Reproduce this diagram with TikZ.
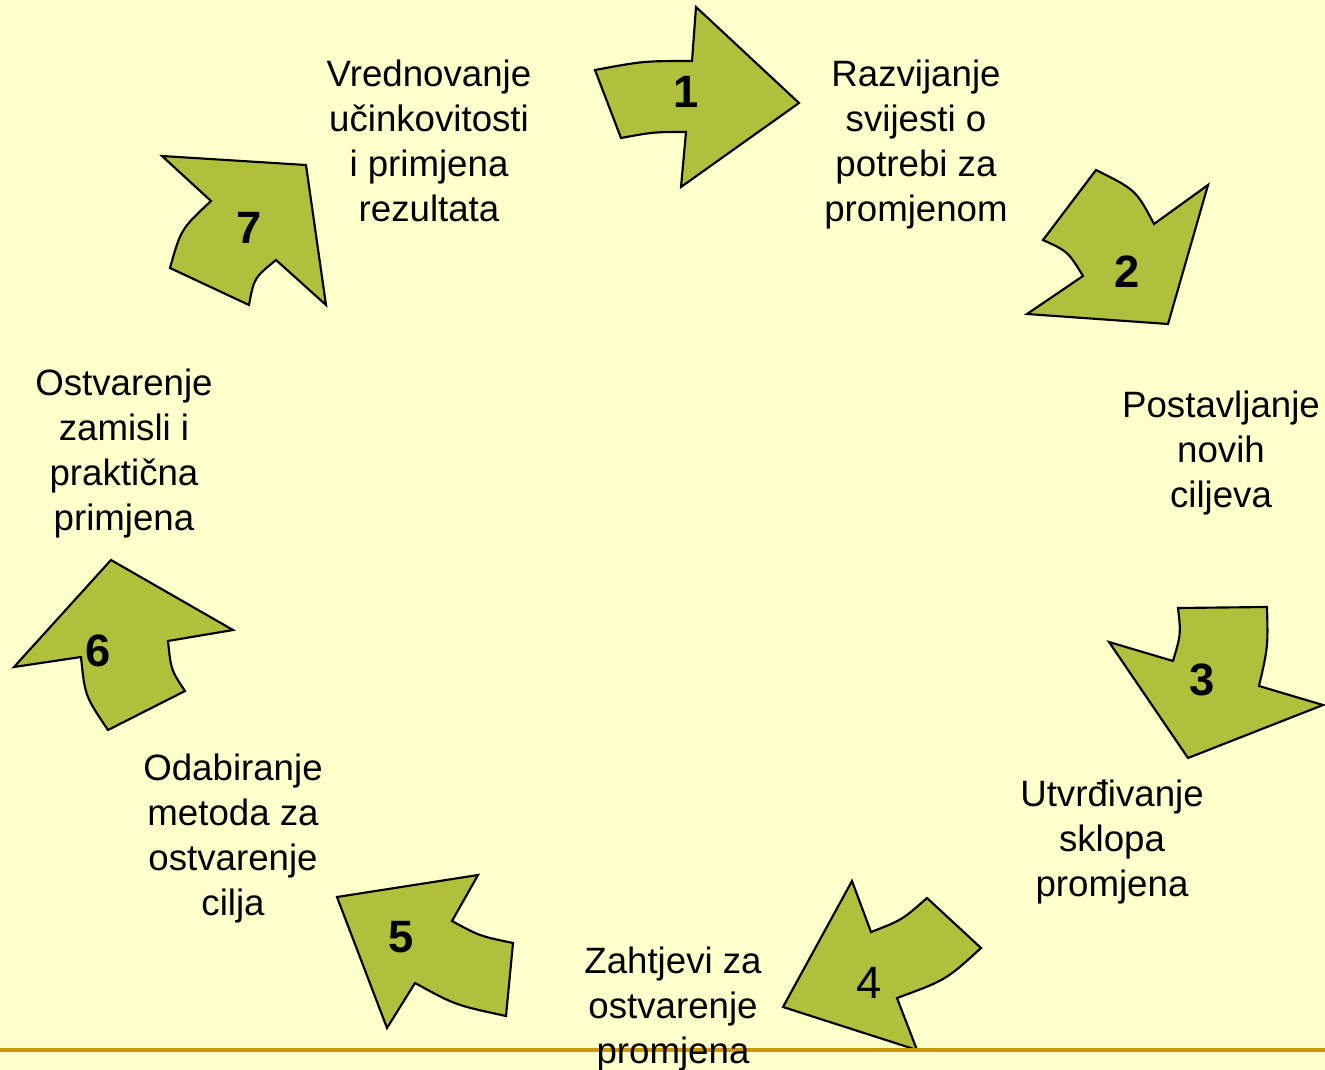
\documentclass[tikz,border=0pt]{standalone}
\usepackage{fontspec}
\setmainfont{Liberation Sans}
\usetikzlibrary{positioning}
\definecolor{paper}{RGB}{255,255,204}
\definecolor{leafgreen}{RGB}{176,192,60}
\definecolor{rulegold}{RGB}{204,153,0}

\begin{document}
\begin{tikzpicture}[x=0.75pt, y=-0.75pt,
    cyclearrow/.style={draw=black, fill=leafgreen, line width=1.6pt, line join=miter},
    steptext/.style={align=center, anchor=base, inner sep=0pt, font=\fontsize{27.5}{33.75}\selectfont},
    stepnum/.style={inner sep=0pt, font=\fontsize{34}{40}\selectfont\bfseries}
  ]
    \fill[paper] (0,0) rectangle (1325,1070);
    \useasboundingbox (0,0) rectangle (1325,1070);

    % the seven curved arrows
    \draw[cyclearrow] (595,70) .. controls (643.5,61) .. (692,61) -- (696,7) -- (799,103) -- (681,187) -- (686,132) .. controls (653.5,132) .. (621,138) -- cycle;
    \draw[cyclearrow] (1096,170) .. controls (1136,190) .. (1154,224) -- (1208,185) -- (1168,324) -- (1027,314) -- (1083,276) .. controls (1068,251.5) .. (1043,240) -- cycle;
    \draw[cyclearrow] (1178,608) -- (1267,607) .. controls (1268,647) .. (1259,686) -- (1323,705) -- (1188,758) -- (1109,642) -- (1173,661) .. controls (1181,634) .. cycle;
    \draw[cyclearrow] (852,881) -- (871,932) .. controls (902,920) .. (927,898) -- (981,948) .. controls (946,980) .. (897,998) -- (917,1050) -- (783,1007) -- cycle;
    \draw[cyclearrow] (478,875) -- (452,921) .. controls (479.5,936) .. (513,943) -- (506,1016) .. controls (455,1005) .. (415,983) -- (387,1028) -- (337,897) -- cycle;
    \draw[cyclearrow] (111,560) -- (233,630) -- (168,641) .. controls (171,670) .. (185,691) -- (108,730) .. controls (85,696) .. (81,657) -- (14,667) -- cycle;
    \draw[cyclearrow] (162,156) -- (306,165) -- (326,305) -- (276,260) .. controls (254,278) .. (249,305) -- (170,268) .. controls (181,229) .. (211,201) -- cycle;

    \draw[rulegold, line width=3pt] (0,1050) -- (1325,1050);

    % step numbers
    \node[stepnum] (n1) at (686,92) {1};
    \node[stepnum] (n2) at (1127,272) {2};
    \node[stepnum] (n3) at (1202,680) {3};
    \node[stepnum, font=\fontsize{34}{40}\selectfont] (n4) at (869,983) {4};
    \node[stepnum] (n5) at (401,937) {5};
    \node[stepnum] (n6) at (98,651) {6};
    \node[stepnum] (n7) at (249,228) {7};

    % step texts (anchored at the baseline of the last line)
    \node[steptext] (awareness) at (916,222) {Razvijanje\\svijesti o\\potrebi za\\promjenom};
    \node[steptext] (goals) at (1221,507) {Postavljanje\\novih\\ciljeva};
    \node[steptext] (frame) at (1112,896) {Utvrđivanje\\sklopa\\promjena};
    \node[steptext] (demands) at (673,1063) {Zahtjevi za\\ostvarenje\\promjena};
    \node[steptext] (methods) at (233,915) {Odabiranje\\metoda za\\ostvarenje\\cilja};
    \node[steptext] (practice) at (124,530) {Ostvarenje\\zamisli i\\praktična\\primjena};
    \node[steptext] (evaluation) at (429,222) {Vrednovanje\\učinkovitosti\\i primjena\\rezultata};
  \end{tikzpicture}
\end{document}
